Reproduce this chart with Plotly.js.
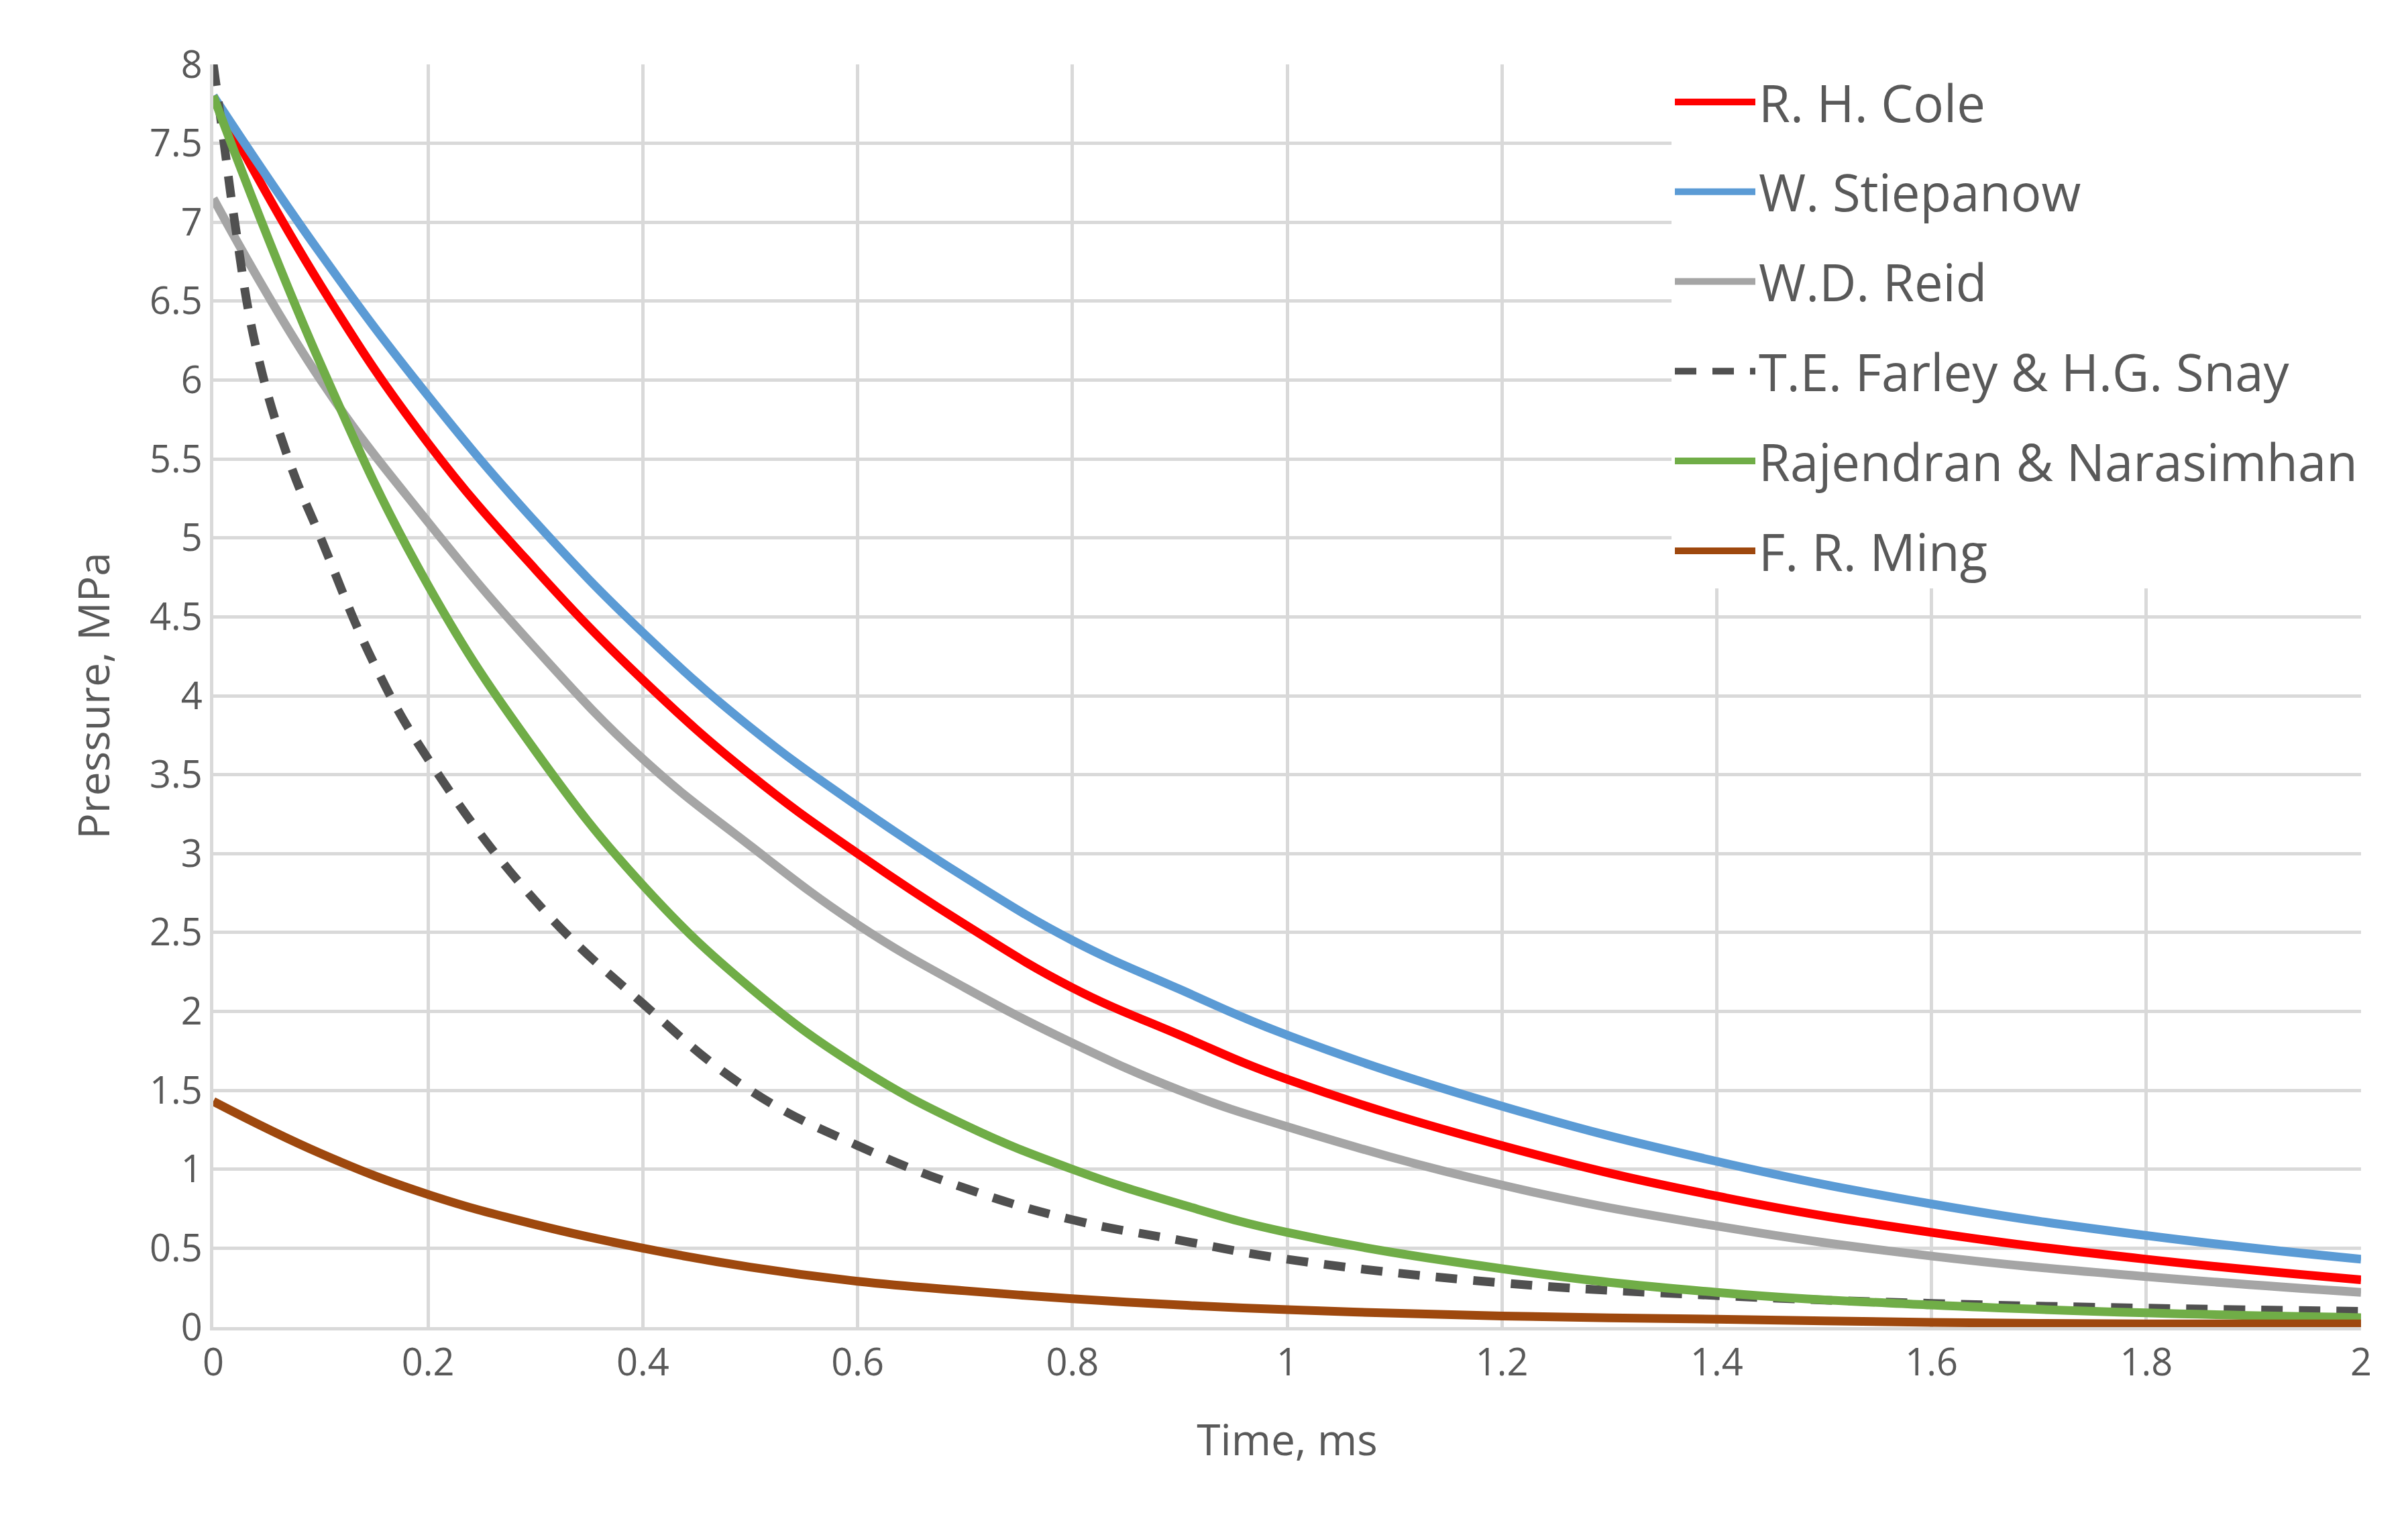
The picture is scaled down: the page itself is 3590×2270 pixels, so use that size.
<!DOCTYPE html>
<html><head><meta charset="utf-8">
<script src="https://cdn.plot.ly/plotly-3.0.1.min.js"></script>
<style>body{margin:0;background:#fff}</style></head>
<body><div id="c" style="width:3590px;height:2270px"></div>
<script>
const tStd = [0,0.1,0.2,0.3,0.4,0.5,0.6,0.7,0.8,0.9,1.0,1.2,1.4,1.6,1.8,2.0];
const cole = [7.8,6.6,5.6,4.8,4.1,3.5,3.0,2.55,2.15,1.85,1.57,1.15,0.83,0.6,0.43,0.3];
const stiepanow = [7.8,6.8,5.9,5.1,4.4,3.8,3.3,2.85,2.45,2.14,1.85,1.4,1.05,0.78,0.58,0.43];
const reid = [7.15,6.0,5.1,4.3,3.6,3.05,2.55,2.15,1.8,1.5,1.27,0.9,0.64,0.45,0.32,0.22];
const rajendran = [7.8,6.1,4.7,3.65,2.8,2.15,1.65,1.28,1.0,0.78,0.6,0.37,0.22,0.14,0.09,0.06];
const ming = [1.43,1.1,0.84,0.65,0.5,0.38,0.29,0.23,0.18,0.14,0.11,0.07,0.05,0.03,0.02,0.02];
const tFarley = [0,0.01,0.02,0.04,0.07,0.1,0.15,0.2,0.3,0.4,0.5,0.6,0.7,0.8,0.9,1.0,1.2,1.4,1.6,1.8,2.0];
const farley = [8.0,7.5,7.0,6.2,5.5,5.0,4.2,3.6,2.7,2.05,1.5,1.15,0.88,0.68,0.55,0.43,0.28,0.2,0.15,0.12,0.1];

const W = 13;
function tr(name, x, y, color, dash){
  return {type:'scatter',mode:'lines',name:name,x:x,y:y,legendgroup:name,
    line:{color:color,width:W,shape:'spline',smoothing:1.2,dash:dash||'solid'}};
}
const data = [
  tr('R. H. Cole', tStd, cole, '#ff0000'),
  tr('W. Stiepanow', tStd, stiepanow, '#5b9bd5'),
  tr('W.D. Reid', tStd, reid, '#a5a5a5'),
  tr('T.E. Farley &amp; H.G. Snay', tFarley, farley, '#505050', '32px,24px'),
  tr('Rajendran &amp; Narasimhan', tStd, rajendran, '#70ad47'),
  tr('F. R. Ming', tStd, ming, '#9e480e')
];
const font = {family:'"Open Sans", Lato, sans-serif', color:'#595959'};
const layout = {
  width:3590, height:2270, paper_bgcolor:'#fff', plot_bgcolor:'#fff',
  margin:{l:318,r:70,t:96,b:292},
  font:font,
  xaxis:{range:[0,2],dtick:0.2,showgrid:true,gridcolor:'#d9d9d9',gridwidth:5,
    zeroline:false,showline:true,linecolor:'#d9d9d9',linewidth:5,
    tickfont:{size:56,color:'#595959'},ticks:'',
    title:{text:'Time, ms',font:{size:64,color:'#595959'},standoff:60}},
  yaxis:{range:[0,8],dtick:0.5,showgrid:true,gridcolor:'#d9d9d9',gridwidth:5,
    zeroline:false,showline:true,linecolor:'#d9d9d9',linewidth:5,
    tickfont:{size:56,color:'#595959'},ticks:'',
    title:{text:'Pressure, MPa',font:{size:64,color:'#595959'},standoff:40}},
  legend:{x:1,xanchor:'right',y:1,yanchor:'top',bgcolor:'#fff',
    font:{size:76,color:'#595959'},itemwidth:120,traceorder:'grouped',tracegroupgap:32,
    borderwidth:0}
};
Plotly.newPlot('c', data, layout, {displayModeBar:false});
</script></body></html>
